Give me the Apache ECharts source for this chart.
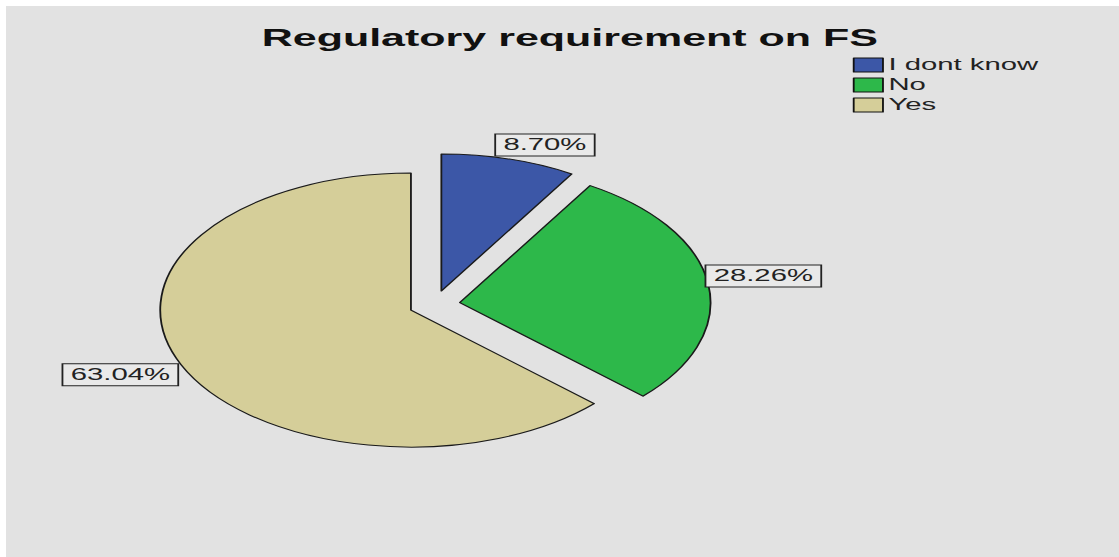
<!DOCTYPE html>
<html>
<head>
<meta charset="utf-8">
<script src="https://cdn.jsdelivr.net/npm/echarts@6/dist/echarts.min.js"></script>
<style>
  body { margin: 0; background: #ffffff; }
  #bg { position: absolute; left: 6px; top: 6px; right: 0; bottom: 0; background: #e2e2e2; }
  /* the original picture is stretched sideways, so the chart is drawn narrow and widened */
  #main { position: absolute; left: 0; top: 0; width: 611.5px; height: 557px; transform: scaleX(1.83); transform-origin: 0 0; }
</style>
</head>
<body>
<div id="bg"></div>
<div id="main"></div>
<script>
// data
let categories = ['I dont know', 'No', 'Yes'];
let percents = [8.70, 28.26, 63.04];
let colors = ['#3c57a7', '#2db84a', '#d5ce99'];

// small nudges so labels sit where the original puts them
let labelLen = [14.6, 0, 0];
let nudge = [[-16, 0], [-6, -8], [3, 10]];

let myChart = echarts.init(document.getElementById('main'), null, { renderer: 'svg' });

let pieData = categories.map(function (name, i) {
    return {
        name: name,
        value: percents[i],
        selected: true,
        itemStyle: { color: colors[i] },
        labelLine: { show: false, length: labelLen[i], length2: 0 }
    };
});

let option = {
    animation: false,
    textStyle: { fontFamily: 'Liberation Sans, Arial, sans-serif' },
    title: {
        text: 'Regulatory requirement on FS',
        left: 138,
        top: 21,
        textStyle: { fontSize: 23.5, fontWeight: 'bold', color: '#111' }
    },
    legend: {
        orient: 'vertical',
        left: 466,
        top: 57,
        padding: 0,
        itemWidth: 16,
        itemHeight: 14,
        itemGap: 4,
        icon: 'rect',
        selectedMode: false,
        data: categories,
        itemStyle: { borderColor: '#111', borderWidth: 1 },
        textStyle: { fontSize: 16, color: '#222', padding: [0, 0, 0, -2] }
    },
    series: [{
        type: 'pie',
        center: [237.4, 304.5],
        radius: 137,
        startAngle: 90,
        clockwise: true,
        selectedMode: 'multiple',
        selectedOffset: 14,
        avoidLabelOverlap: false,
        itemStyle: { borderColor: '#1a1a1a', borderWidth: 1 },
        emphasis: { disabled: true },
        select: { itemStyle: { borderColor: '#1a1a1a', borderWidth: 1 } },
        label: {
            show: true,
            position: 'outside',
            formatter: function (p) {
                return p.value.toFixed(2) + '%';
            },
            fontSize: 16,
            color: '#222',
            backgroundColor: '#e9e9e9',
            borderColor: '#222',
            borderWidth: 1,
            padding: [3, 4, 2, 4]
        },
        labelLayout: function (params) {
            let n = nudge[params.dataIndex];
            return { dx: n[0], dy: n[1] };
        },
        data: pieData
    }]
};
myChart.setOption(option);
</script>
</body>
</html>
